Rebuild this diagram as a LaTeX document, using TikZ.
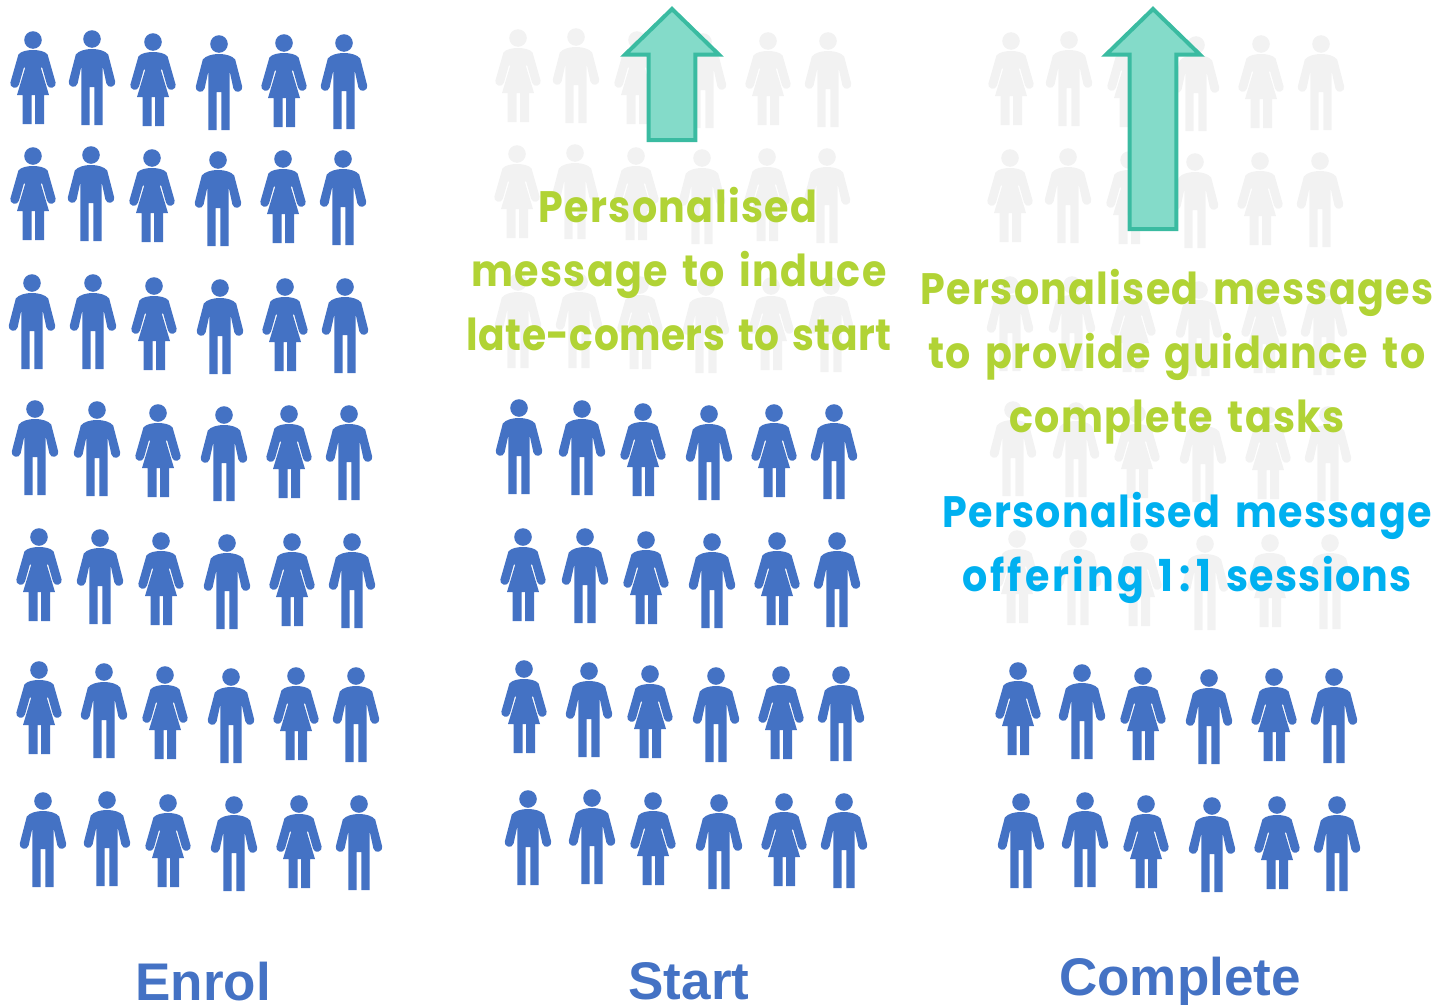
\documentclass[tikz,border=0pt]{standalone}
\usepackage{fontspec}
\setmainfont{Poppins}
\newfontfamily\labelfont{Liberation Sans}
\newfontfamily\msgfont[LetterSpace=3,FakeStretch=0.9,WordSpace=1.5,Ligatures=NoCommon]{Poppins}
\newfontfamily\msgtight[LetterSpace=1,FakeStretch=0.89,WordSpace=1.5,Ligatures=NoCommon]{Poppins}
\newfontfamily\msgwide[LetterSpace=7,FakeStretch=0.9,WordSpace=1.5,Ligatures=NoCommon]{Poppins}
\definecolor{pblue}{HTML}{4472C4}
\definecolor{pgrey}{HTML}{F2F2F2}
\definecolor{tealfill}{HTML}{84DBC9}
\definecolor{tealline}{HTML}{3ABBA1}
\definecolor{lime}{HTML}{B1D335}
\definecolor{sky}{HTML}{00B0F0}
\tikzset{
 man/.pic={
  \fill (0,0) circle (8.8);
  \fill (0,10) .. controls (6,10) and (13,11.5) .. (16.2,15.5) -- (23.2,42.5)
    .. controls (24.5,47.5) and (16,50.5) .. (14.4,44.5) -- (10.6,27) -- (10.6,86) -- (2.3,86) -- (2.3,48)
    -- (-2.3,48) -- (-2.3,86) -- (-10.6,86) -- (-10.6,27) -- (-14.4,44.5)
    .. controls (-16,50.5) and (-24.5,47.5) .. (-23.2,42.5) -- (-16.2,15.5)
    .. controls (-13,11.5) and (-6,10) .. (0,10) -- cycle;
 },
 woman/.pic={
  \fill (0,0) circle (8.8);
  \fill (0,10) .. controls (5,10) and (12,11) .. (14.6,14.5) -- (22.6,42.5)
    .. controls (24,47.5) and (15.5,50.5) .. (14,44.5) -- (9.2,27.7) -- (7.8,27.7) -- (16,55) -- (11,55) -- (11,84) -- (2,84) -- (2,55)
    -- (-1.3,55) -- (-1.3,84) -- (-10.3,84) -- (-10.3,55) -- (-16,55) -- (-7.8,27.7) -- (-9.2,27.7) -- (-14,44.5)
    .. controls (-15.5,50.5) and (-24,47.5) .. (-22.6,42.5) -- (-14.6,14.5)
    .. controls (-12,11) and (-5,10) .. (0,10) -- cycle;
 },
 bigarrow/.style={draw=tealline,fill=tealfill,line width=4pt,miter limit=10},
 greentext/.style={text=lime,font=\msgfont\bfseries\fontsize{44}{44}\selectfont,inner sep=0pt,anchor=base},
 bluetext/.style={text=sky,font=\msgfont\bfseries\fontsize{44}{44}\selectfont,inner sep=0pt,anchor=base},
 columnlabel/.style={text=pblue,font=\labelfont\bfseries\fontsize{53}{53}\selectfont,inner sep=0pt,anchor=base},
}
% first head x,y; second head x,y; first figure; fill
\newcommand{\peoplerow}[6]{%
 \begin{scope}[#6]
  \pic at (#1,#2) {#5};
  \pic at (#3,#4) {man};
  \pic at ({#3+61},{#4+3}) {woman};
  \pic at ({#3+127},{#4+5}) {man};
  \pic at ({#3+192},{#4+4}) {woman};
  \pic at ({#3+252},{#4+4}) {man};
 \end{scope}}
\begin{document}
\begin{tikzpicture}[x=1pt,y=-1pt]
\useasboundingbox (0,0) rectangle (1440,1004);
% Enrol
\peoplerow{33}{40}{92}{39}{woman}{fill=pblue}
\peoplerow{33}{156}{91}{155}{woman}{fill=pblue}
\peoplerow{32}{283}{93}{283}{man}{fill=pblue}
\peoplerow{35}{409}{97}{410}{man}{fill=pblue}
\peoplerow{39}{537}{100}{538}{woman}{fill=pblue}
\peoplerow{39}{670}{104}{672}{woman}{fill=pblue}
\peoplerow{43}{801}{107}{800}{man}{fill=pblue}
% Start
\peoplerow{518}{38}{576}{37}{woman}{fill=pgrey}
\peoplerow{517}{154}{575}{153}{woman}{fill=pgrey}
\peoplerow{518}{282}{579}{282}{man}{fill=pgrey}
\peoplerow{519}{408}{582}{409}{man}{fill=pblue}
\peoplerow{523}{537}{585}{537}{woman}{fill=pblue}
\peoplerow{524}{669}{589}{671}{woman}{fill=pblue}
\peoplerow{528}{799}{592}{798}{man}{fill=pblue}
% Complete
\peoplerow{1011}{41}{1069}{40}{woman}{fill=pgrey}
\peoplerow{1010}{158}{1068}{157}{woman}{fill=pgrey}
\peoplerow{1010}{285}{1072}{285}{man}{fill=pgrey}
\peoplerow{1013}{410}{1076}{411}{man}{fill=pgrey}
\peoplerow{1017}{539}{1078}{539}{woman}{fill=pgrey}
\peoplerow{1018}{671}{1082}{673}{woman}{fill=pblue}
\peoplerow{1021}{802}{1085}{801}{man}{fill=pblue}
% Arrows
\draw[bigarrow] (672,9) -- (719,54.7) -- (695.3,54.7) -- (695.3,140) -- (648.7,140) -- (648.7,54.7) -- (625,54.7) -- cycle;
\draw[bigarrow] (1153,9) -- (1200,54.7) -- (1176.3,54.7) -- (1176.3,229) -- (1129.7,229) -- (1129.7,54.7) -- (1106,54.7) -- cycle;
% Texts
\node[greentext] (a1) at (678,222) {Personalised};
\node[greentext] (a2) at (679,286) {message to induce};
\node[greentext] (a3) at (679,350) {\msgtight\bfseries\fontsize{44}{44}\selectfont late-comers to start};
\node[greentext] (b1) at (1177,304) {Personalised messages};
\node[greentext] (b2) at (1177,368) {to provide guidance to};
\node[greentext] (b3) at (1177,432) {complete tasks};
\node[bluetext] (c1) at (1187,527) {Personalised message};
\node[bluetext] (c2) at (1187,591) {{\msgwide\bfseries\fontsize{44}{44}\selectfont offering} 1\kern6pt:\kern6pt1 sessions};
\node[columnlabel] (l1) at (203,1000) {Enrol};
\node[columnlabel] (l2) at (689,999) {Start};
\node[columnlabel] (l3) at (1180,995) {Complete};
\end{tikzpicture}
\end{document}
